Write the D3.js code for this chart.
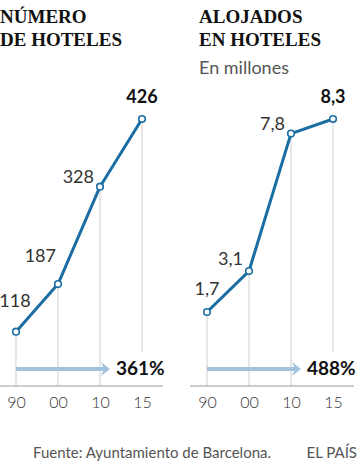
<!DOCTYPE html>
<html><head><meta charset="utf-8">
<script src="https://cdn.jsdelivr.net/npm/d3@7"></script>
<style>
html,body{margin:0;padding:0;background:#fff;}
svg{display:block;}
</style></head>
<body>
<svg id="chart" width="360" height="468"></svg>
<script>
// ---- data ----
const years = ["90", "00", "10", "15"];
const hoteles = [118, 187, 328, 426];
const hotelesLabels = ["118", "187", "328", "426"];
const alojados = [1.7, 3.1, 7.8, 8.3];
const alojadosLabels = ["1,7", "3,1", "7,8", "8,3"];
const growthHoteles = "361%";
const growthAlojados = "488%";

const svg = d3.select("#chart");
const blue = "#1a6ea3", arrowBlue = "#a2c2dd", grid = "#cfcfcf";
const sans = "Lato, 'Open Sans', sans-serif";
const serif = "'Liberation Serif', 'DejaVu Serif', serif";

// titles
function title(x, lines) {
  lines.forEach((t, i) => svg.append("text").attr("x", x).attr("y", 23 + i * 23)
    .attr("font-family", serif).attr("font-weight", "bold").attr("font-size", 19)
    .attr("fill", "#111").text(t));
}
title(0, ["NÚMERO", "DE HOTELES"]);
title(199, ["ALOJADOS", "EN HOTELES"]);
svg.append("text").attr("x", 199).attr("y", 74).attr("font-family", sans)
  .attr("font-size", 18).attr("fill", "#555").text("En millones");

const axisY = 386;

function panel(opts) {
  const { values, labels, xr, yd, yr, axisR, growth, labelPos } = opts;
  const x = d3.scalePoint().domain(years).range(xr);
  const y = d3.scaleLinear().domain(yd).range(yr);
  const g = svg.append("g");
  // gridlines
  years.forEach((yr_, i) => {
    const y2 = i === years.length - 1 ? 352 : axisY;
    g.append("line").attr("x1", x(yr_)).attr("x2", x(yr_))
      .attr("y1", y(values[i])).attr("y2", y2)
      .attr("stroke", grid).attr("stroke-width", 1);
  });
  // axis
  const ax = g.append("g").attr("transform", `translate(0,${axisY})`)
    .call(d3.axisBottom(x).tickSize(0).tickPadding(11));
  ax.select(".domain").remove();
  g.append("line").attr("x1", axisR[0]).attr("x2", axisR[1]).attr("y1", axisY).attr("y2", axisY)
    .attr("stroke", "#999").attr("stroke-width", 1);
  ax.selectAll("text").attr("font-family", sans).attr("font-size", 16)
    .attr("font-weight", 300).attr("fill", "#333");
  // growth arrow
  const ay = 369;
  const x0 = x(years[0]), x1 = x(years[2]) + 10;
  g.append("line").attr("x1", x0).attr("x2", x1 - 6).attr("y1", ay).attr("y2", ay)
    .attr("stroke", arrowBlue).attr("stroke-width", 4);
  g.append("path").attr("d", `M${x1 - 9},${ay - 7} L${x1},${ay} L${x1 - 9},${ay + 7} L${x1 - 6},${ay} Z`)
    .attr("fill", arrowBlue);
  g.append("text").attr("x", x1 + 6).attr("y", ay + 6).attr("font-family", sans)
    .attr("font-weight", "bold").attr("font-size", 19).attr("fill", "#111").text(growth);
  // line
  const line = d3.line().x((d, i) => x(years[i])).y(d => y(d));
  g.append("path").datum(values).attr("d", line).attr("fill", "none")
    .attr("stroke", blue).attr("stroke-width", 3).attr("stroke-linejoin", "round");
  g.selectAll("circle.pt").data(values).join("circle").attr("class", "pt")
    .attr("cx", (d, i) => x(years[i])).attr("cy", d => y(d)).attr("r", 3.3)
    .attr("fill", "#fff").attr("stroke", blue).attr("stroke-width", 1.6);
  // labels
  g.selectAll("text.val").data(values).join("text").attr("class", "val")
    .attr("x", (d, i) => x(years[i]) + labelPos[i][0])
    .attr("y", (d, i) => y(d) + labelPos[i][1])
    .attr("text-anchor", (d, i) => labelPos[i][2])
    .attr("font-family", sans).attr("font-size", 18)
    .attr("font-weight", (d, i) => i === values.length - 1 ? "bold" : "normal")
    .attr("fill", (d, i) => i === values.length - 1 ? "#111" : "#333")
    .text((d, i) => labels[i]);
}

panel({
  values: hoteles, labels: hotelesLabels,
  xr: [16, 142], yd: [118, 426], yr: [331.7, 119], axisR: [0, 163],
  growth: growthHoteles,
  labelPos: [[-1, -25, "middle"], [-2, -22, "end"], [-6, -4, "end"], [0, -16, "middle"]]
});
panel({
  values: alojados, labels: alojadosLabels,
  xr: [207, 333], yd: [1.7, 8.3], yr: [312, 119], axisR: [190, 354],
  growth: growthAlojados,
  labelPos: [[0, -17, "middle"], [-6, -6, "end"], [-6, -4, "end"], [0, -16, "middle"]]
});

// footer
svg.append("text").attr("x", 33).attr("y", 458).attr("font-family", sans)
  .attr("font-size", 15).attr("fill", "#555").text("Fuente: Ayuntamiento de Barcelona.");
svg.append("text").attr("x", 357).attr("y", 458).attr("text-anchor", "end").attr("font-family", sans)
  .attr("font-size", 15).attr("fill", "#555").text("EL PAÍS");
</script>
</body></html>
